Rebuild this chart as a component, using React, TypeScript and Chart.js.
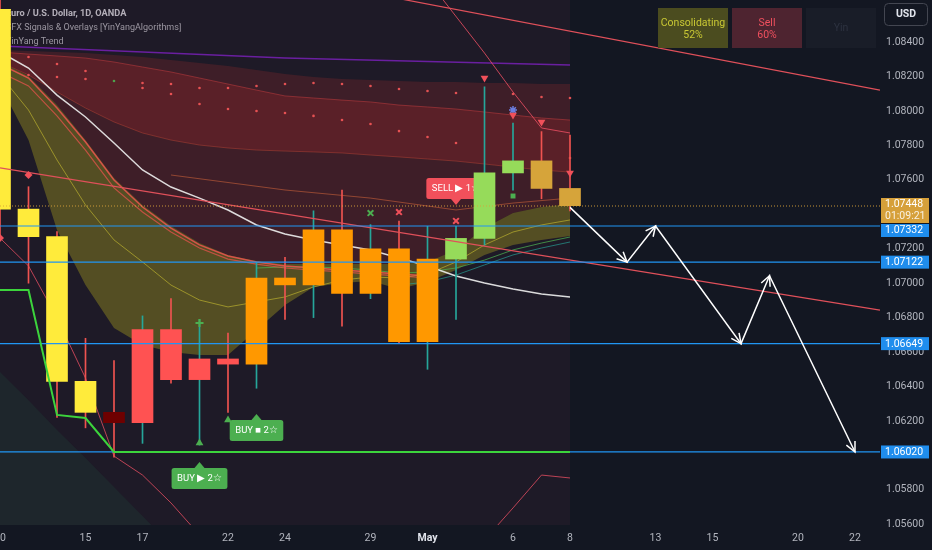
import React, { useEffect, useRef } from 'react';
import { Chart, registerables } from 'chart.js';
Chart.register(...registerables);

// ---------------- DATA ----------------
const dates = ['Apr 10','Apr 11','Apr 12','Apr 15','Apr 16','Apr 17','Apr 18','Apr 19','Apr 22','Apr 23','Apr 24','Apr 25','Apr 26','Apr 29','Apr 30','May 1','May 2','May 3','May 6','May 7','May 8'];
const opens  = [1.0859,1.0743,1.0727,1.0643,1.0625,1.0619,1.0673,1.0644,1.0656,1.0653,1.0703,1.0699,1.0731,1.0694,1.0720,1.0666,1.0714,1.0726,1.0764,1.0771,1.0755];
const highs  = [1.0872,1.0756,1.0730,1.0668,1.0655,1.0681,1.0691,1.0679,1.0671,1.0712,1.0715,1.0742,1.0754,1.0734,1.0736,1.0733,1.0733,1.0814,1.0793,1.0788,1.0786];
const lows   = [1.0725,1.0700,1.0622,1.0616,1.0599,1.0607,1.0642,1.0606,1.0625,1.0639,1.0679,1.0680,1.0675,1.0691,1.0665,1.0650,1.0679,1.0722,1.0754,1.0749,1.0742];
const closes = [1.0743,1.0727,1.0643,1.0625,1.0619,1.0673,1.0644,1.0656,1.0653,1.0703,1.0699,1.0731,1.0694,1.0720,1.0666,1.0714,1.0726,1.0764,1.0771,1.0755,1.0745];
const trendState = ['yin','yin','yin','yin','deep','red','red','red','red','orange','orange','orange','orange','orange','orange','orange','green','green','green','gold','gold'];

const xTickIdx = [0,3,5,8,10,13,15,18,20,23,25,28,30];
const xTickLabels = ['10','15','17','22','24','29','May','6','8','13','15','20','22'];
const yTicks = [1.056,1.058,1.060,1.062,1.064,1.066,1.068,1.070,1.072,1.074,1.076,1.078,1.080,1.082,1.084];

// cloud / overlay lines (one value per bar)
const redTop  = [1.08354,1.08348,1.08342,1.08336,1.08325,1.08313,1.08296,1.08278,1.08261,1.08238,1.08214,1.08197,1.08185,1.08180,1.08174,1.08168,1.08168,1.08162,1.08162,1.08156,1.08156];
const redHiA  = [1.08342,1.08330,1.08319,1.08307,1.08284,1.08255,1.08226,1.08191,1.08156,1.08121,1.08087,1.08075,1.08063,1.08052,1.08034,1.08023,1.08011,1.07994,1.07976,1.07959,1.07947];
const redHiB  = [1.08284,1.08209,1.08110,1.08017,1.07936,1.07872,1.07831,1.07802,1.07785,1.07773,1.07767,1.07762,1.07756,1.07744,1.07733,1.07721,1.07709,1.07692,1.07674,1.07657,1.07645];
const oliveTop= [1.08284,1.08203,1.08034,1.07831,1.07611,1.07454,1.07332,1.07233,1.07164,1.07129,1.07111,1.07111,1.07111,1.07111,1.07111,1.07123,1.07193,1.07320,1.07407,1.07442,1.07460];
const oliveBot= [1.08151,1.07831,1.07309,1.06989,1.06740,1.06641,1.06600,1.06583,1.06583,1.06728,1.06873,1.06978,1.07001,1.07013,1.06966,1.07007,1.07076,1.07164,1.07222,1.07251,1.07274];
const oliveMid= [1.08209,1.08005,1.07715,1.07454,1.07251,1.07123,1.06989,1.06902,1.06862,1.06891,1.06920,1.06978,1.07018,1.07036,1.07030,1.07053,1.07123,1.07222,1.07297,1.07338,1.07367];
const whiteMA = [1.08342,1.08249,1.08092,1.07965,1.07814,1.07657,1.07558,1.07494,1.07425,1.07338,1.07285,1.07251,1.07222,1.07193,1.07146,1.07100,1.07042,1.07001,1.06966,1.06937,1.06920];
const salmonA = [1.08272,1.08191,1.08017,1.07820,1.07599,1.07442,1.07320,1.07222,1.07158,1.07123,1.07100,1.07088,1.07076,1.07065,1.07053,1.07042];
const salmonB = [1.08226,1.08145,1.07971,1.07773,1.07553,1.07413,1.07297,1.07204,1.07140,1.07111,1.07088,1.07076,1.07065,1.07053,1.07042,1.07030];
const orangeIdx = [6,10,13,16,18,20];
const orangeLn  = [1.07628,1.07541,1.07494,1.07425,1.07465,1.07494];
const greenAIdx = [9,10,11,12,13,14,15,16,17,18,19,20];
const greenA    = [1.07088,1.07094,1.07094,1.07088,1.07076,1.07059,1.07065,1.07088,1.07134,1.07193,1.07233,1.07268];
const tealAIdx  = [14,15,16,17,18,19,20];
const tealA     = [1.06989,1.07007,1.07047,1.07106,1.07164,1.07204,1.07239];
const lowerEnv  = [1.07262,1.07100,1.06798,1.06449,1.05996,1.05886,1.05724,1.05538,1.05393,1.05306,1.05306,1.05306,1.05306,1.05306,1.05306,1.05306,1.05306,1.05509,1.05695,1.05886,1.05869];
const upperEnvIdx = [15.5,17,18,19,20];
const upperEnv    = [1.08655,1.08336,1.08110,1.07901,1.07872];
const purpleIdx = [0,10,20];
const purpleLn  = [1.08377,1.08307,1.08267];
const tealCloud = [1.06484,1.06320,1.06147,1.05985,1.05817,1.05648,1.05480];
const stopIdx = [0,1,2,3,4,20];
const stopLn  = [1.06960,1.06960,1.06235,1.06217,1.06020,1.06020];

const dotsAIdx = [1,2,3,4,5,6,7,8,9,10,11,12,13,14,15,16,18,19,20];
const dotsA    = [1.08313,1.08272,1.08232,1.08174,1.08162,1.08156,1.08133,1.08133,1.08145,1.08156,1.08162,1.08156,1.08145,1.08127,1.08116,1.08104,1.08098,1.08081,1.08075];
const dotsBIdx = [1,2,3,5,6,7,8,9,10,11,12,13,14,15,16,20];
const dotsB    = [1.08209,1.08197,1.08185,1.08133,1.08098,1.08040,1.08011,1.08000,1.07988,1.07971,1.07947,1.07924,1.07883,1.07849,1.07814,1.07727];

// drawn levels / trend lines
const levels = [1.07332, 1.07122, 1.06649, 1.06020];
const lastPrice = 1.07448;
const countdown = '01:09:21';
const trendAIdx = [0, 30.877];
const trendA    = [1.07669, 1.06844];
const trendBIdx = [14, 30.877];
const trendB    = [1.08652, 1.08121];
const projIdx   = [20, 22, 23, 26, 27, 30];
const projPrice = [1.0744, 1.07122, 1.07332, 1.06649, 1.07043, 1.06020];

// signal markers
const sellTriIdx = [17, 18, 19, 20];
const sellTri    = [1.08191, 1.07976, 1.07936, 1.07640];
const buyTriIdx  = [7, 8];
const buyTri     = [1.06072, 1.06206];
const plusIdx = [7];      const plusVal = [1.06769];
const gxIdx = [13];       const gxVal = [1.07407];
const rxIdx = [14, 16];   const rxVal = [1.07413, 1.07361];
const diaIdx = [1, 0];    const diaVal = [1.07628, 1.07262];
const flagIdx = [18];     const flagVal = [1.07506];
const starIdx = [18];     const starVal = [1.08005];

const signalText  = ['BUY \u25B6 2\u2606', 'BUY \u25A0 2\u2606', 'SELL \u25B6 1\u2606'];
const signalIdx   = [7, 9, 16];
const signalPrice = [1.05962, 1.06240, 1.07454];

const legendLines = ['Euro / U.S. Dollar, 1D, OANDA', 'SFX Signals & Overlays [YinYangAlgorithms]', 'YinYang Trend'];
const boxTitles = [['Consolidating', '52%'], ['Sell', '60%'], ['Yin']];

// ---------------- STYLE ----------------
const BG = '#131722';
const X_MAX = 30.877;
const Y_MIN = 1.05596;
const Y_MAX = 1.08644;
const stateColor: Record<string, string> = { yin: '#ffeb3b', deep: '#6e0000', red: '#ff5252', orange: '#ff9800', green: '#96db5a', gold: '#d6a43a' };
const FONT = 'Roboto';

const pts = (vals: number[], idx?: number[]) => vals.map((v, i) => ({ x: idx ? idx[i] : i, y: v }));

function roundRect(ctx: CanvasRenderingContext2D, x: number, y: number, w: number, h: number, r: number) {
  ctx.beginPath();
  ctx.moveTo(x + r, y);
  ctx.lineTo(x + w - r, y);
  ctx.quadraticCurveTo(x + w, y, x + w, y + r);
  ctx.lineTo(x + w, y + h - r);
  ctx.quadraticCurveTo(x + w, y + h, x + w - r, y + h);
  ctx.lineTo(x + r, y + h);
  ctx.quadraticCurveTo(x, y + h, x, y + h - r);
  ctx.lineTo(x, y + r);
  ctx.quadraticCurveTo(x, y, x + r, y);
  ctx.closePath();
}

function buildDatasets() {
  const ds: any[] = [];
  const add = (d: any) => {
    ds.push({ type: 'line', pointRadius: 0, borderWidth: 0, borderColor: 'transparent', tension: 0, fill: false, ...d });
    return ds.length - 1;
  };
  add({ label: 'session', data: [{ x: 0, y: Y_MAX }, { x: 20, y: Y_MAX }], fill: 'start', backgroundColor: 'rgba(74,43,59,0.22)', order: 100 });
  add({ label: 'tealCloud', data: pts(tealCloud), fill: 'start', backgroundColor: 'rgba(30,80,62,0.22)', order: 99 });
  const otIdx = add({ label: 'oliveTopRef', data: pts(oliveTop), order: 98 });
  add({ label: 'redCloud', data: pts(redTop), fill: otIdx, backgroundColor: 'rgba(130,40,42,0.32)', order: 90 });
  add({ label: 'oliveCloud', data: pts(oliveBot), fill: otIdx, backgroundColor: 'rgba(150,142,30,0.45)', order: 88 });
  const hbIdx = add({ label: 'redHiB', data: pts(redHiB), borderColor: 'rgba(230,90,60,0.35)', borderWidth: 1, order: 87 });
  add({ label: 'redBand', data: pts(redHiA), fill: hbIdx, backgroundColor: 'rgba(170,40,42,0.26)', borderColor: 'rgba(230,70,70,0.4)', borderWidth: 1, order: 85 });
  add({ label: 'oliveMid', data: pts(oliveMid), borderColor: 'rgba(185,175,45,0.7)', borderWidth: 1, order: 60 });
  add({ label: 'orangeLn', data: pts(orangeLn, orangeIdx), borderColor: 'rgba(230,110,60,0.5)', borderWidth: 1, order: 60 });
  add({ label: 'greenA', data: pts(greenA, greenAIdx), borderColor: 'rgba(76,175,80,0.75)', borderWidth: 1, order: 60 });
  add({ label: 'tealA', data: pts(tealA, tealAIdx), borderColor: 'rgba(38,166,154,0.65)', borderWidth: 1, order: 60 });
  add({ label: 'salmonA', data: pts(salmonA), borderColor: 'rgba(239,83,80,0.85)', borderWidth: 1.5, order: 59 });
  add({ label: 'salmonB', data: pts(salmonB), borderColor: 'rgba(239,83,80,0.7)', borderWidth: 1.2, order: 59 });
  add({ label: 'lowerEnv', data: pts(lowerEnv), borderColor: 'rgba(240,80,100,0.75)', borderWidth: 1, order: 58 });
  add({ label: 'upperEnv', data: pts(upperEnv, upperEnvIdx), borderColor: 'rgba(240,80,100,0.8)', borderWidth: 1, order: 58 });
  add({ label: 'purple', data: pts(purpleLn, purpleIdx), borderColor: '#6a1fa0', borderWidth: 1.5, order: 58 });
  add({ label: 'white', data: pts(whiteMA), borderColor: 'rgba(236,236,236,0.92)', borderWidth: 1.5, order: 55 });
  add({ label: 'dotsA', data: pts(dotsA, dotsAIdx), showLine: false, pointRadius: 1.3, pointBorderWidth: 0,
    pointBackgroundColor: dotsAIdx.map((i) => (i === 4 ? 'rgba(76,175,80,0.9)' : 'rgba(255,90,90,0.85)')), order: 40 });
  add({ label: 'dotsB', data: pts(dotsB, dotsBIdx), showLine: false, pointRadius: 1.3, pointBorderWidth: 0, pointBackgroundColor: 'rgba(255,90,90,0.85)', order: 40 });
  add({ type: 'bar', label: 'wicks', data: dates.map((_, i) => ({ x: i, y: [lows[i], highs[i]] })), grouped: false,
    barThickness: 1, maxBarThickness: 1, borderWidth: 0,
    backgroundColor: dates.map((_, i) => (closes[i] >= opens[i] ? '#26a69a' : '#ef5350')), order: 30 });
  add({ type: 'bar', label: 'bodies', data: dates.map((_, i) => ({ x: i, y: [opens[i], closes[i]] })), grouped: false,
    barThickness: 21, maxBarThickness: 21, borderWidth: 0, borderSkipped: false,
    backgroundColor: trendState.map((s) => stateColor[s]), order: 25 });
  levels.forEach((lv, k) => add({ label: 'level' + k, data: [{ x: 0, y: lv }, { x: X_MAX, y: lv }], borderColor: '#2196f3', borderWidth: 1.2, order: 22 }));
  add({ label: 'last', data: [{ x: 0, y: lastPrice }, { x: X_MAX, y: lastPrice }], borderColor: 'rgba(217,163,58,0.9)', borderWidth: 1, borderDash: [1, 2], order: 22 });
  add({ label: 'trendA', data: pts(trendA, trendAIdx), borderColor: '#e0505a', borderWidth: 1.2, order: 22 });
  add({ label: 'trendB', data: pts(trendB, trendBIdx), borderColor: '#e0505a', borderWidth: 1.2, order: 22 });
  add({ label: 'stop', data: pts(stopLn, stopIdx), borderColor: '#3cd43c', borderWidth: 2, order: 21 });
  const mk = (label: string, vals: number[], idx: number[], extra: any) =>
    add({ label, data: pts(vals, idx), showLine: false, order: 12, ...extra });
  mk('sellTri', sellTri, sellTriIdx, { pointStyle: 'triangle', pointRotation: 180, pointRadius: 4.5, pointBackgroundColor: '#f0505a', pointBorderWidth: 0 });
  mk('buyTri', buyTri, buyTriIdx, { pointStyle: 'triangle', pointRadius: 4.5, pointBackgroundColor: '#4caf50', pointBorderWidth: 0 });
  mk('plus', plusVal, plusIdx, { pointStyle: 'cross', pointRadius: 4, pointBorderColor: '#4caf50', pointBorderWidth: 2 });
  mk('gx', gxVal, gxIdx, { pointStyle: 'crossRot', pointRadius: 4, pointBorderColor: '#4caf50', pointBorderWidth: 2 });
  mk('rx', rxVal, rxIdx, { pointStyle: 'crossRot', pointRadius: 4, pointBorderColor: '#f0505a', pointBorderWidth: 2 });
  mk('dia', diaVal, diaIdx, { pointStyle: 'rectRot', pointRadius: 4, pointBackgroundColor: '#f0505a', pointBorderWidth: 0 });
  mk('flag', flagVal, flagIdx, { pointStyle: 'rect', pointRadius: 3.5, pointBackgroundColor: '#4caf50', pointBorderWidth: 0 });
  mk('star', starVal, starIdx, { pointStyle: 'star', pointRadius: 4, pointBorderColor: '#6b7ee0', pointBorderWidth: 1.5 });
  add({ label: 'projection', data: pts(projPrice, projIdx), borderColor: '#ffffff', borderWidth: 1.5, order: 5 });
  return ds;
}

const bgPlugin = {
  id: 'bg',
  beforeDraw(chart: any) {
    const { ctx, width, height } = chart;
    ctx.save();
    ctx.fillStyle = BG;
    ctx.fillRect(0, 0, width, height);
    ctx.restore();
  },
  beforeDatasetsDraw(chart: any) {
    const ctx = chart.ctx;
    ctx.save();
    ctx.textBaseline = 'middle';
    ctx.textAlign = 'left';
    ctx.font = `bold 9.2px ${FONT}`;
    ctx.fillStyle = '#d1d4dc';
    ctx.fillText(legendLines[0], 6, 14);
    ctx.font = `9px ${FONT}`;
    ctx.fillStyle = '#b2b5be';
    ctx.fillText(legendLines[1], 6, 28);
    ctx.fillText(legendLines[2], 6, 42);
    ctx.restore();
  },
};

function drawSignal(ctx: CanvasRenderingContext2D, x: number, tip: number, text: string, sell: boolean) {
  const h = 21, ph = 6;
  ctx.font = `9.5px ${FONT}`;
  const w = ctx.measureText(text).width + 11;
  const color = sell ? '#f2505b' : '#4caf50';
  const top = sell ? tip - ph - h : tip + ph;
  ctx.fillStyle = color;
  roundRect(ctx, x - w / 2, top, w, h, 2.5);
  ctx.fill();
  ctx.beginPath();
  if (sell) {
    ctx.moveTo(x - 5, top + h); ctx.lineTo(x + 5, top + h); ctx.lineTo(x, tip);
  } else {
    ctx.moveTo(x - 5, top); ctx.lineTo(x + 5, top); ctx.lineTo(x, tip);
  }
  ctx.closePath();
  ctx.fill();
  ctx.fillStyle = '#ffffff';
  ctx.textAlign = 'center';
  ctx.textBaseline = 'middle';
  ctx.fillText(text, x, top + h / 2 + 0.5);
}

const signalPlugin = {
  id: 'signals',
  afterDatasetDraw(chart: any, args: any) {
    if (chart.data.datasets[args.index].label !== 'wicks') return;
    const ctx = chart.ctx;
    const xs = chart.scales.x, ys = chart.scales.y;
    ctx.save();
    signalText.forEach((t, k) => {
      drawSignal(ctx, xs.getPixelForValue(signalIdx[k]), ys.getPixelForValue(signalPrice[k]), t, t.startsWith('SELL'));
    });
    ctx.restore();
  },
};

const overlayPlugin = {
  id: 'overlay',
  afterDatasetsDraw(chart: any) {
    const ctx = chart.ctx;
    const di = chart.data.datasets.findIndex((d: any) => d.label === 'projection');
    const meta = chart.getDatasetMeta(di);
    ctx.save();
    ctx.strokeStyle = '#ffffff';
    ctx.lineWidth = 1.5;
    for (let k = 1; k < meta.data.length; k++) {
      const a = meta.data[k - 1], b = meta.data[k];
      const ang = Math.atan2(b.y - a.y, b.x - a.x);
      const L = 11;
      ctx.beginPath();
      ctx.moveTo(b.x - L * Math.cos(ang - 0.45), b.y - L * Math.sin(ang - 0.45));
      ctx.lineTo(b.x, b.y);
      ctx.lineTo(b.x - L * Math.cos(ang + 0.45), b.y - L * Math.sin(ang + 0.45));
      ctx.stroke();
    }
    ctx.restore();
  },
  afterDraw(chart: any) {
    const ctx = chart.ctx;
    const ys = chart.scales.y;
    const ax = chart.chartArea.right + 1;
    ctx.save();
    const items = [{ v: lastPrice, gold: true }, ...levels.map((v) => ({ v, gold: false }))]
      .map((it) => ({ ...it, py: ys.getPixelForValue(it.v) }))
      .sort((a, b) => a.py - b.py);
    let lastBottom = -1e9;
    ctx.textBaseline = 'middle';
    ctx.textAlign = 'left';
    items.forEach((it) => {
      const h = it.gold ? 25 : 13;
      const top = Math.max(it.py - (it.gold ? 8 : 6.5), lastBottom + 1);
      ctx.fillStyle = it.gold ? '#d6a03a' : '#1f8ded';
      ctx.fillRect(ax, top, 48, h);
      ctx.fillStyle = '#ffffff';
      ctx.font = `10.5px ${FONT}`;
      ctx.fillText(it.v.toFixed(5), ax + 4, top + 6.8);
      if (it.gold) {
        ctx.fillStyle = 'rgba(255,255,255,0.85)';
        ctx.fillText(countdown, ax + 4, top + 18.5);
      }
      lastBottom = top + h;
    });
    const boxes = [
      { x: 658, bg: '#4b4c1f', fg: '#c9c834' },
      { x: 732, bg: '#4e2430', fg: '#f0505e' },
      { x: 806, bg: '#191d28', fg: '#2d3240' },
    ];
    ctx.textAlign = 'center';
    boxes.forEach((b, k) => {
      ctx.fillStyle = b.bg;
      ctx.fillRect(b.x, 8, 70, 40);
      ctx.fillStyle = b.fg;
      ctx.font = `10.5px ${FONT}`;
      const lines = boxTitles[k];
      if (lines.length === 2) {
        ctx.fillText(lines[0], b.x + 35, 23);
        ctx.fillText(lines[1], b.x + 35, 35);
      } else {
        ctx.fillText(lines[0], b.x + 35, 28);
      }
    });
    ctx.fillStyle = BG;
    roundRect(ctx, 884.5, 3.5, 43, 22, 4);
    ctx.fill();
    ctx.strokeStyle = '#434651';
    ctx.lineWidth = 1;
    ctx.stroke();
    ctx.fillStyle = '#e0e3eb';
    ctx.font = `bold 10.5px ${FONT}`;
    ctx.fillText('USD', 906, 14.8);
    ctx.restore();
  },
};

const zeroPad = (s: any) => { s.paddingLeft = 0; s.paddingRight = 0; s.paddingTop = 0; s.paddingBottom = 0; };

export default function App() {
  const ref = useRef<HTMLCanvasElement>(null);
  useEffect(() => {
    document.body.style.background = BG;
    const canvas = ref.current!;
    const chart = new Chart(canvas, {
      type: 'line',
      data: { datasets: buildDatasets() },
      options: {
        responsive: false,
        animation: false,
        devicePixelRatio: 1,
        events: [],
        layout: { padding: 0, autoPadding: false },
        plugins: { legend: { display: false }, tooltip: { enabled: false } },
        scales: {
          x: {
            type: 'linear', min: 0, max: X_MAX, offset: false,
            grid: { display: false, drawTicks: false }, border: { display: false },
            afterBuildTicks: (s: any) => { s.ticks = xTickIdx.map((v) => ({ value: v })); },
            afterFit: (s: any) => { s.height = 25; zeroPad(s); },
            ticks: {
              autoSkip: false, maxRotation: 0, padding: 7,
              callback: (_v: any, i: number) => xTickLabels[i],
              color: (c: any) => (xTickLabels[c.index] === 'May' ? '#e0e3eb' : '#b2b5be'),
              font: (c: any) => ({ family: FONT, size: 10.5, weight: xTickLabels[c.index] === 'May' ? 'bold' : 'normal' }),
            },
          },
          y: {
            type: 'linear', position: 'right', min: Y_MIN, max: Y_MAX,
            grid: { display: false, drawTicks: false }, border: { display: false },
            afterBuildTicks: (s: any) => { s.ticks = yTicks.map((v) => ({ value: v })); },
            afterFit: (s: any) => { s.width = 52; zeroPad(s); },
            ticks: { padding: 6, color: '#b2b5be', font: { family: FONT, size: 10.5 }, callback: (v: any) => Number(v).toFixed(5) },
          },
        },
      } as any,
      plugins: [bgPlugin, signalPlugin, overlayPlugin],
    } as any);
    return () => chart.destroy();
  }, []);
  return (
    <div style={{ position: 'fixed', left: 0, top: 0, width: 932, height: 550, background: BG }}>
      <canvas ref={ref} width={932} height={550} style={{ display: 'block', width: 932, height: 550 }} />
    </div>
  );
}
